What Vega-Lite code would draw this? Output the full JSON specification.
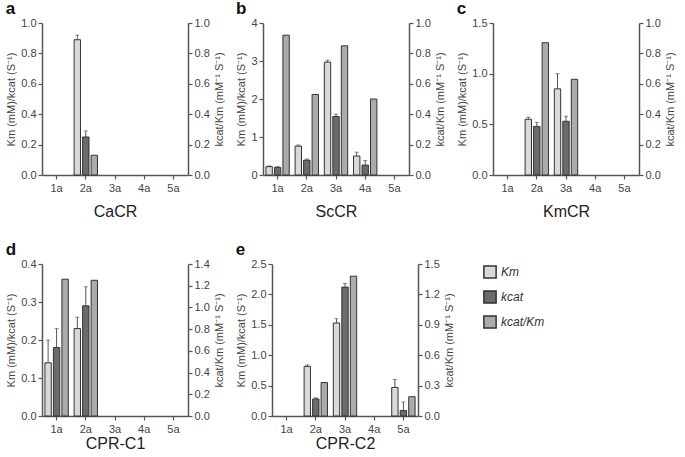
{
  "$schema": "https://vega.github.io/schema/vega-lite/v6.json",
  "padding": {"left": 5, "top": 0, "right": 5, "bottom": 0},
  "background": "white",
  "datasets": {
    "kin": [
      {"panel": "a", "sample": "2a", "measure": "Km", "value": 0.89, "upper": 0.92},
      {"panel": "a", "sample": "2a", "measure": "kcat", "value": 0.25, "upper": 0.29},
      {"panel": "a", "sample": "2a", "measure": "kcat/Km", "value": 0.13},
      {"panel": "b", "sample": "1a", "measure": "Km", "value": 0.22, "upper": 0.24},
      {"panel": "b", "sample": "1a", "measure": "kcat", "value": 0.2, "upper": 0.22},
      {"panel": "b", "sample": "1a", "measure": "kcat/Km", "value": 0.92},
      {"panel": "b", "sample": "2a", "measure": "Km", "value": 0.76, "upper": 0.79},
      {"panel": "b", "sample": "2a", "measure": "kcat", "value": 0.39, "upper": 0.42},
      {"panel": "b", "sample": "2a", "measure": "kcat/Km", "value": 0.53},
      {"panel": "b", "sample": "3a", "measure": "Km", "value": 2.97, "upper": 3.02},
      {"panel": "b", "sample": "3a", "measure": "kcat", "value": 1.54, "upper": 1.6},
      {"panel": "b", "sample": "3a", "measure": "kcat/Km", "value": 0.85},
      {"panel": "b", "sample": "4a", "measure": "Km", "value": 0.5, "upper": 0.6},
      {"panel": "b", "sample": "4a", "measure": "kcat", "value": 0.26, "upper": 0.38},
      {"panel": "b", "sample": "4a", "measure": "kcat/Km", "value": 0.5},
      {"panel": "c", "sample": "2a", "measure": "Km", "value": 0.55, "upper": 0.57},
      {"panel": "c", "sample": "2a", "measure": "kcat", "value": 0.48, "upper": 0.52},
      {"panel": "c", "sample": "2a", "measure": "kcat/Km", "value": 0.87},
      {"panel": "c", "sample": "3a", "measure": "Km", "value": 0.85, "upper": 1.0},
      {"panel": "c", "sample": "3a", "measure": "kcat", "value": 0.53, "upper": 0.58},
      {"panel": "c", "sample": "3a", "measure": "kcat/Km", "value": 0.63},
      {"panel": "d", "sample": "1a", "measure": "Km", "value": 0.14, "upper": 0.2},
      {"panel": "d", "sample": "1a", "measure": "kcat", "value": 0.18, "upper": 0.23},
      {"panel": "d", "sample": "1a", "measure": "kcat/Km", "value": 1.26},
      {"panel": "d", "sample": "2a", "measure": "Km", "value": 0.23, "upper": 0.26},
      {"panel": "d", "sample": "2a", "measure": "kcat", "value": 0.29, "upper": 0.34},
      {"panel": "d", "sample": "2a", "measure": "kcat/Km", "value": 1.25},
      {"panel": "e", "sample": "2a", "measure": "Km", "value": 0.815, "upper": 0.84},
      {"panel": "e", "sample": "2a", "measure": "kcat", "value": 0.28, "upper": 0.3},
      {"panel": "e", "sample": "2a", "measure": "kcat/Km", "value": 0.33},
      {"panel": "e", "sample": "3a", "measure": "Km", "value": 1.53, "upper": 1.6},
      {"panel": "e", "sample": "3a", "measure": "kcat", "value": 2.12, "upper": 2.18},
      {"panel": "e", "sample": "3a", "measure": "kcat/Km", "value": 1.38},
      {"panel": "e", "sample": "5a", "measure": "Km", "value": 0.47, "upper": 0.6},
      {"panel": "e", "sample": "5a", "measure": "kcat", "value": 0.09, "upper": 0.23},
      {"panel": "e", "sample": "5a", "measure": "kcat/Km", "value": 0.19}
    ]
  },
  "data": {"name": "kin"},
  "vconcat": [
    {
      "hconcat": [
        {
          "title": {"text": "a"},
          "width": 146, "height": 152,
          "transform": [{"filter": "datum.panel === 'a'"}],
          "encoding": {
            "x": {"field": "sample", "type": "nominal", "scale": {"domain": ["1a", "2a", "3a", "4a", "5a"], "paddingInner": 0.2, "paddingOuter": 0.1}, "axis": {"title": "CaCR"}},
            "xOffset": {"field": "measure", "type": "nominal", "scale": {"domain": ["Km", "kcat", "kcat/Km"], "paddingInner": 0.25}}
          },
          "layer": [
            {
              "transform": [{"filter": "datum.measure !== 'kcat/Km'"}],
              "encoding": {"y": {"field": "value", "type": "quantitative", "title": "Km (mM)/kcat (S⁻¹)", "scale": {"domain": [0, 1], "nice": false}, "axis": {"orient": "left", "values": [0, 0.2, 0.4, 0.6, 0.8, 1.0], "format": ".1f"}}},
              "layer": [
                {"mark": {"type": "bar", "stroke": "#333", "strokeWidth": 1}, "encoding": {"fill": {"field": "measure", "type": "nominal", "scale": {"domain": ["Km", "kcat", "kcat/Km"], "range": ["#d9d9d9", "#6b6b6b", "#ababab"]}, "legend": {"title": null}}}},
                {"mark": {"type": "rule", "color": "#555", "strokeWidth": 1}, "encoding": {"y2": {"field": "upper"}}},
                {"mark": {"type": "tick", "color": "#555", "size": 4, "thickness": 1}, "encoding": {"y": {"field": "upper", "type": "quantitative", "title": "Km (mM)/kcat (S⁻¹)"}}}
              ]
            },
            {
              "transform": [{"filter": "datum.measure === 'kcat/Km'"}],
              "mark": {"type": "bar", "stroke": "#333", "strokeWidth": 1},
              "encoding": {
                "y": {"field": "value", "type": "quantitative", "title": "kcat/Km (mM⁻¹ S⁻¹)", "scale": {"domain": [0, 1], "nice": false}, "axis": {"orient": "right", "titleAngle": -90, "titleBaseline": "top", "values": [0, 0.2, 0.4, 0.6, 0.8, 1.0], "format": ".1f"}},
                "fill": {"field": "measure", "type": "nominal", "scale": {"domain": ["Km", "kcat", "kcat/Km"], "range": ["#d9d9d9", "#6b6b6b", "#ababab"]}, "legend": {"title": null}}
              }
            }
          ],
          "resolve": {"scale": {"y": "independent"}}
        },
        {
          "title": {"text": "b"},
          "width": 146, "height": 152,
          "transform": [{"filter": "datum.panel === 'b'"}],
          "encoding": {
            "x": {"field": "sample", "type": "nominal", "scale": {"domain": ["1a", "2a", "3a", "4a", "5a"], "paddingInner": 0.2, "paddingOuter": 0.1}, "axis": {"title": "ScCR"}},
            "xOffset": {"field": "measure", "type": "nominal", "scale": {"domain": ["Km", "kcat", "kcat/Km"], "paddingInner": 0.25}}
          },
          "layer": [
            {
              "transform": [{"filter": "datum.measure !== 'kcat/Km'"}],
              "encoding": {"y": {"field": "value", "type": "quantitative", "title": "Km (mM)/kcat (S⁻¹)", "scale": {"domain": [0, 4], "nice": false}, "axis": {"orient": "left", "values": [0, 1, 2, 3, 4], "format": "d"}}},
              "layer": [
                {"mark": {"type": "bar", "stroke": "#333", "strokeWidth": 1}, "encoding": {"fill": {"field": "measure", "type": "nominal", "scale": {"domain": ["Km", "kcat", "kcat/Km"], "range": ["#d9d9d9", "#6b6b6b", "#ababab"]}, "legend": {"title": null}}}},
                {"mark": {"type": "rule", "color": "#555", "strokeWidth": 1}, "encoding": {"y2": {"field": "upper"}}},
                {"mark": {"type": "tick", "color": "#555", "size": 4, "thickness": 1}, "encoding": {"y": {"field": "upper", "type": "quantitative", "title": "Km (mM)/kcat (S⁻¹)"}}}
              ]
            },
            {
              "transform": [{"filter": "datum.measure === 'kcat/Km'"}],
              "mark": {"type": "bar", "stroke": "#333", "strokeWidth": 1},
              "encoding": {
                "y": {"field": "value", "type": "quantitative", "title": "kcat/Km (mM⁻¹ S⁻¹)", "scale": {"domain": [0, 1], "nice": false}, "axis": {"orient": "right", "titleAngle": -90, "titleBaseline": "top", "values": [0, 0.2, 0.4, 0.6, 0.8, 1.0], "format": ".1f"}},
                "fill": {"field": "measure", "type": "nominal", "scale": {"domain": ["Km", "kcat", "kcat/Km"], "range": ["#d9d9d9", "#6b6b6b", "#ababab"]}, "legend": {"title": null}}
              }
            }
          ],
          "resolve": {"scale": {"y": "independent"}}
        },
        {
          "title": {"text": "c"},
          "width": 146, "height": 152,
          "transform": [{"filter": "datum.panel === 'c'"}],
          "encoding": {
            "x": {"field": "sample", "type": "nominal", "scale": {"domain": ["1a", "2a", "3a", "4a", "5a"], "paddingInner": 0.2, "paddingOuter": 0.1}, "axis": {"title": "KmCR"}},
            "xOffset": {"field": "measure", "type": "nominal", "scale": {"domain": ["Km", "kcat", "kcat/Km"], "paddingInner": 0.25}}
          },
          "layer": [
            {
              "transform": [{"filter": "datum.measure !== 'kcat/Km'"}],
              "encoding": {"y": {"field": "value", "type": "quantitative", "title": "Km (mM)/kcat (S⁻¹)", "scale": {"domain": [0, 1.5], "nice": false}, "axis": {"orient": "left", "values": [0, 0.5, 1.0, 1.5], "format": ".1f"}}},
              "layer": [
                {"mark": {"type": "bar", "stroke": "#333", "strokeWidth": 1}, "encoding": {"fill": {"field": "measure", "type": "nominal", "scale": {"domain": ["Km", "kcat", "kcat/Km"], "range": ["#d9d9d9", "#6b6b6b", "#ababab"]}, "legend": {"title": null}}}},
                {"mark": {"type": "rule", "color": "#555", "strokeWidth": 1}, "encoding": {"y2": {"field": "upper"}}},
                {"mark": {"type": "tick", "color": "#555", "size": 4, "thickness": 1}, "encoding": {"y": {"field": "upper", "type": "quantitative", "title": "Km (mM)/kcat (S⁻¹)"}}}
              ]
            },
            {
              "transform": [{"filter": "datum.measure === 'kcat/Km'"}],
              "mark": {"type": "bar", "stroke": "#333", "strokeWidth": 1},
              "encoding": {
                "y": {"field": "value", "type": "quantitative", "title": "kcat/Km (mM⁻¹ S⁻¹)", "scale": {"domain": [0, 1], "nice": false}, "axis": {"orient": "right", "titleAngle": -90, "titleBaseline": "top", "values": [0, 0.2, 0.4, 0.6, 0.8, 1.0], "format": ".1f"}},
                "fill": {"field": "measure", "type": "nominal", "scale": {"domain": ["Km", "kcat", "kcat/Km"], "range": ["#d9d9d9", "#6b6b6b", "#ababab"]}, "legend": {"title": null}}
              }
            }
          ],
          "resolve": {"scale": {"y": "independent"}}
        }
      ],
      "spacing": 10
    },
    {
      "hconcat": [
        {
          "title": {"text": "d"},
          "width": 146, "height": 152,
          "transform": [{"filter": "datum.panel === 'd'"}],
          "encoding": {
            "x": {"field": "sample", "type": "nominal", "scale": {"domain": ["1a", "2a", "3a", "4a", "5a"], "paddingInner": 0.2, "paddingOuter": 0.1}, "axis": {"title": "CPR-C1", "titlePadding": 1}},
            "xOffset": {"field": "measure", "type": "nominal", "scale": {"domain": ["Km", "kcat", "kcat/Km"], "paddingInner": 0.25}}
          },
          "layer": [
            {
              "transform": [{"filter": "datum.measure !== 'kcat/Km'"}],
              "encoding": {"y": {"field": "value", "type": "quantitative", "title": "Km (mM)/kcat (S⁻¹)", "scale": {"domain": [0, 0.4], "nice": false}, "axis": {"orient": "left", "values": [0, 0.1, 0.2, 0.3, 0.4], "format": ".1f"}}},
              "layer": [
                {"mark": {"type": "bar", "stroke": "#333", "strokeWidth": 1}, "encoding": {"fill": {"field": "measure", "type": "nominal", "scale": {"domain": ["Km", "kcat", "kcat/Km"], "range": ["#d9d9d9", "#6b6b6b", "#ababab"]}, "legend": {"title": null}}}},
                {"mark": {"type": "rule", "color": "#555", "strokeWidth": 1}, "encoding": {"y2": {"field": "upper"}}},
                {"mark": {"type": "tick", "color": "#555", "size": 4, "thickness": 1}, "encoding": {"y": {"field": "upper", "type": "quantitative", "title": "Km (mM)/kcat (S⁻¹)"}}}
              ]
            },
            {
              "transform": [{"filter": "datum.measure === 'kcat/Km'"}],
              "mark": {"type": "bar", "stroke": "#333", "strokeWidth": 1},
              "encoding": {
                "y": {"field": "value", "type": "quantitative", "title": "kcat/Km (mM⁻¹ S⁻¹)", "scale": {"domain": [0, 1.4], "nice": false}, "axis": {"orient": "right", "titleAngle": -90, "titleBaseline": "top", "values": [0, 0.2, 0.4, 0.6, 0.8, 1.0, 1.2, 1.4], "format": ".1f"}},
                "fill": {"field": "measure", "type": "nominal", "scale": {"domain": ["Km", "kcat", "kcat/Km"], "range": ["#d9d9d9", "#6b6b6b", "#ababab"]}, "legend": {"title": null}}
              }
            }
          ],
          "resolve": {"scale": {"y": "independent"}}
        },
        {
          "title": {"text": "e"},
          "width": 146, "height": 152,
          "transform": [{"filter": "datum.panel === 'e'"}],
          "encoding": {
            "x": {"field": "sample", "type": "nominal", "scale": {"domain": ["1a", "2a", "3a", "4a", "5a"], "paddingInner": 0.2, "paddingOuter": 0.1}, "axis": {"title": "CPR-C2", "titlePadding": 1}},
            "xOffset": {"field": "measure", "type": "nominal", "scale": {"domain": ["Km", "kcat", "kcat/Km"], "paddingInner": 0.25}}
          },
          "layer": [
            {
              "transform": [{"filter": "datum.measure !== 'kcat/Km'"}],
              "encoding": {"y": {"field": "value", "type": "quantitative", "title": "Km (mM)/kcat (S⁻¹)", "scale": {"domain": [0, 2.5], "nice": false}, "axis": {"orient": "left", "values": [0, 0.5, 1.0, 1.5, 2.0, 2.5], "format": ".1f"}}},
              "layer": [
                {"mark": {"type": "bar", "stroke": "#333", "strokeWidth": 1}, "encoding": {"fill": {"field": "measure", "type": "nominal", "scale": {"domain": ["Km", "kcat", "kcat/Km"], "range": ["#d9d9d9", "#6b6b6b", "#ababab"]}, "legend": {"title": null}}}},
                {"mark": {"type": "rule", "color": "#555", "strokeWidth": 1}, "encoding": {"y2": {"field": "upper"}}},
                {"mark": {"type": "tick", "color": "#555", "size": 4, "thickness": 1}, "encoding": {"y": {"field": "upper", "type": "quantitative", "title": "Km (mM)/kcat (S⁻¹)"}}}
              ]
            },
            {
              "transform": [{"filter": "datum.measure === 'kcat/Km'"}],
              "mark": {"type": "bar", "stroke": "#333", "strokeWidth": 1},
              "encoding": {
                "y": {"field": "value", "type": "quantitative", "title": "kcat/Km (mM⁻¹ S⁻¹)", "scale": {"domain": [0, 1.5], "nice": false}, "axis": {"orient": "right", "titleAngle": -90, "titleBaseline": "top", "values": [0, 0.3, 0.6, 0.9, 1.2, 1.5], "format": ".1f"}},
                "fill": {"field": "measure", "type": "nominal", "scale": {"domain": ["Km", "kcat", "kcat/Km"], "range": ["#d9d9d9", "#6b6b6b", "#ababab"]}, "legend": {"title": null}}
              }
            }
          ],
          "resolve": {"scale": {"y": "independent"}}
        }
      ],
      "spacing": 10
    }
  ],
  "spacing": 22,
  "config": {
    "font": "Liberation Sans",
    "view": {"stroke": null},
    "axis": {"grid": false, "domainColor": "#555", "domainWidth": 1.5, "tickColor": "#555", "tickSize": 4, "tickWidth": 1.2, "labelColor": "#444", "labelFontSize": 11, "labelFont": "Liberation Sans", "titleFont": "Liberation Sans", "titleFontSize": 11, "titleFontWeight": "normal", "titleColor": "#444", "titlePadding": 4},
    "axisX": {"labelAngle": 0, "titleFontSize": 16, "titleColor": "#222", "titlePadding": 10, "labelPadding": 3},
    "title": {"anchor": "start", "frame": "bounds", "fontSize": 17, "fontWeight": "bold", "color": "#111", "font": "Liberation Sans", "offset": -1},
    "legend": {"orient": "none", "legendX": 441, "legendY": 242, "symbolType": "square", "symbolSize": 150, "symbolStrokeColor": "#333", "symbolStrokeWidth": 1.5, "labelFontSize": 12, "labelFontStyle": "italic", "labelColor": "#333", "rowPadding": 5, "padding": 0}
  }
}
